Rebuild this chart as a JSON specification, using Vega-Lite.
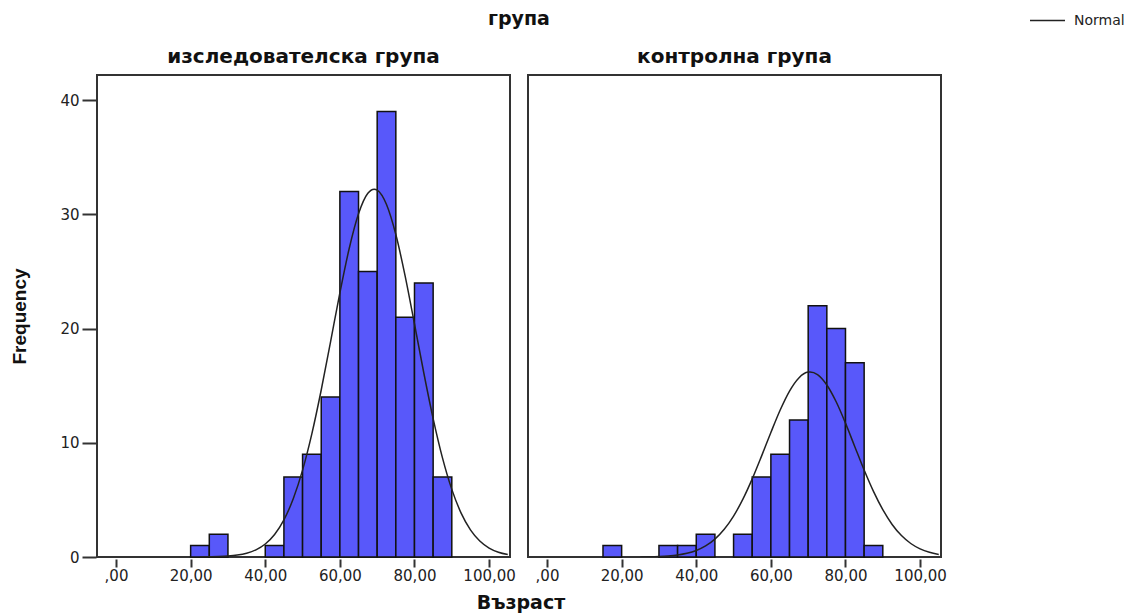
{
  "$schema": "https://vega.github.io/schema/vega-lite/v6.json",
  "padding": {"left": 10, "top": 2, "right": 10, "bottom": 2},
  "background": "white",
  "title": {"text": "Възраст", "orient": "bottom", "anchor": "middle", "dx": -47, "font": "DejaVu Sans", "fontWeight": "bold", "fontSize": 19, "color": "#111", "offset": 11},
  "datasets": {
    "all": [
      {"kind": "bar", "group": "изследователска група", "start": 20, "end": 25, "count": 1},
      {"kind": "bar", "group": "изследователска група", "start": 25, "end": 30, "count": 2},
      {"kind": "bar", "group": "изследователска група", "start": 40, "end": 45, "count": 1},
      {"kind": "bar", "group": "изследователска група", "start": 45, "end": 50, "count": 7},
      {"kind": "bar", "group": "изследователска група", "start": 50, "end": 55, "count": 9},
      {"kind": "bar", "group": "изследователска група", "start": 55, "end": 60, "count": 14},
      {"kind": "bar", "group": "изследователска група", "start": 60, "end": 65, "count": 32},
      {"kind": "bar", "group": "изследователска група", "start": 65, "end": 70, "count": 25},
      {"kind": "bar", "group": "изследователска група", "start": 70, "end": 75, "count": 39},
      {"kind": "bar", "group": "изследователска група", "start": 75, "end": 80, "count": 21},
      {"kind": "bar", "group": "изследователска група", "start": 80, "end": 85, "count": 24},
      {"kind": "bar", "group": "изследователска група", "start": 85, "end": 90, "count": 7},
      {"kind": "bar", "group": "контролна група", "start": 15, "end": 20, "count": 1},
      {"kind": "bar", "group": "контролна група", "start": 30, "end": 35, "count": 1},
      {"kind": "bar", "group": "контролна група", "start": 35, "end": 40, "count": 1},
      {"kind": "bar", "group": "контролна група", "start": 40, "end": 45, "count": 2},
      {"kind": "bar", "group": "контролна група", "start": 50, "end": 55, "count": 2},
      {"kind": "bar", "group": "контролна група", "start": 55, "end": 60, "count": 7},
      {"kind": "bar", "group": "контролна група", "start": 60, "end": 65, "count": 9},
      {"kind": "bar", "group": "контролна група", "start": 65, "end": 70, "count": 12},
      {"kind": "bar", "group": "контролна група", "start": 70, "end": 75, "count": 22},
      {"kind": "bar", "group": "контролна група", "start": 75, "end": 80, "count": 20},
      {"kind": "bar", "group": "контролна група", "start": 80, "end": 85, "count": 17},
      {"kind": "bar", "group": "контролна група", "start": 85, "end": 90, "count": 1},

      {"kind": "curve", "group": "изследователска група", "x": 22.5, "y": 0.0},
      {"kind": "curve", "group": "изследователска група", "x": 25, "y": 0.015},
      {"kind": "curve", "group": "изследователска група", "x": 27.5, "y": 0.035},
      {"kind": "curve", "group": "изследователска група", "x": 30, "y": 0.079},
      {"kind": "curve", "group": "изследователска група", "x": 32.5, "y": 0.165},
      {"kind": "curve", "group": "изследователска група", "x": 35, "y": 0.33},
      {"kind": "curve", "group": "изследователска група", "x": 37.5, "y": 0.63},
      {"kind": "curve", "group": "изследователска група", "x": 40, "y": 1.142},
      {"kind": "curve", "group": "изследователска група", "x": 42.5, "y": 1.974},
      {"kind": "curve", "group": "изследователска група", "x": 45, "y": 3.252},
      {"kind": "curve", "group": "изследователска група", "x": 47.5, "y": 5.094},
      {"kind": "curve", "group": "изследователска група", "x": 50, "y": 7.603},
      {"kind": "curve", "group": "изследователска група", "x": 52.5, "y": 10.8},
      {"kind": "curve", "group": "изследователска група", "x": 55, "y": 14.62},
      {"kind": "curve", "group": "изследователска група", "x": 57.5, "y": 18.84},
      {"kind": "curve", "group": "изследователска група", "x": 60, "y": 23.12},
      {"kind": "curve", "group": "изследователска група", "x": 62.5, "y": 27.01},
      {"kind": "curve", "group": "изследователска група", "x": 65, "y": 30.05},
      {"kind": "curve", "group": "изследователска група", "x": 67.5, "y": 31.84},
      {"kind": "curve", "group": "изследователска група", "x": 69.2, "y": 32.2},
      {"kind": "curve", "group": "изследователска група", "x": 70, "y": 32.12},
      {"kind": "curve", "group": "изследователска група", "x": 72.5, "y": 30.86},
      {"kind": "curve", "group": "изследователска група", "x": 75, "y": 28.23},
      {"kind": "curve", "group": "изследователска група", "x": 77.5, "y": 24.59},
      {"kind": "curve", "group": "изследователска група", "x": 80, "y": 20.4},
      {"kind": "curve", "group": "изследователска група", "x": 82.5, "y": 16.11},
      {"kind": "curve", "group": "изследователска група", "x": 85, "y": 12.12},
      {"kind": "curve", "group": "изследователска група", "x": 87.5, "y": 8.68},
      {"kind": "curve", "group": "изследователска група", "x": 90, "y": 5.92},
      {"kind": "curve", "group": "изследователска група", "x": 92.5, "y": 3.84},
      {"kind": "curve", "group": "изследователска група", "x": 95, "y": 2.376},
      {"kind": "curve", "group": "изследователска група", "x": 97.5, "y": 1.399},
      {"kind": "curve", "group": "изследователска група", "x": 100, "y": 0.784},
      {"kind": "curve", "group": "изследователска група", "x": 102.5, "y": 0.419},
      {"kind": "curve", "group": "изследователска група", "x": 105, "y": 0.213},

      {"kind": "curve", "group": "контролна група", "x": 25, "y": 0.01},
      {"kind": "curve", "group": "контролна група", "x": 27.5, "y": 0.021},
      {"kind": "curve", "group": "контролна група", "x": 30, "y": 0.045},
      {"kind": "curve", "group": "контролна група", "x": 32.5, "y": 0.091},
      {"kind": "curve", "group": "контролна група", "x": 35, "y": 0.175},
      {"kind": "curve", "group": "контролна група", "x": 37.5, "y": 0.324},
      {"kind": "curve", "group": "контролна група", "x": 40, "y": 0.574},
      {"kind": "curve", "group": "контролна група", "x": 42.5, "y": 0.97},
      {"kind": "curve", "group": "контролна група", "x": 45, "y": 1.568},
      {"kind": "curve", "group": "контролна група", "x": 47.5, "y": 2.424},
      {"kind": "curve", "group": "контролна група", "x": 50, "y": 3.582},
      {"kind": "curve", "group": "контролна група", "x": 52.5, "y": 5.061},
      {"kind": "curve", "group": "контролна група", "x": 55, "y": 6.837},
      {"kind": "curve", "group": "контролна група", "x": 57.5, "y": 8.831},
      {"kind": "curve", "group": "контролна група", "x": 60, "y": 10.9},
      {"kind": "curve", "group": "контролна група", "x": 62.5, "y": 12.87},
      {"kind": "curve", "group": "контролна група", "x": 65, "y": 14.53},
      {"kind": "curve", "group": "контролна група", "x": 67.5, "y": 15.68},
      {"kind": "curve", "group": "контролна група", "x": 70, "y": 16.19},
      {"kind": "curve", "group": "контролна група", "x": 70.5, "y": 16.2},
      {"kind": "curve", "group": "контролна група", "x": 72.5, "y": 15.97},
      {"kind": "curve", "group": "контролна група", "x": 75, "y": 15.06},
      {"kind": "curve", "group": "контролна група", "x": 77.5, "y": 13.59},
      {"kind": "curve", "group": "контролна група", "x": 80, "y": 11.72},
      {"kind": "curve", "group": "контролна група", "x": 82.5, "y": 9.66},
      {"kind": "curve", "group": "контролна група", "x": 85, "y": 7.61},
      {"kind": "curve", "group": "контролна група", "x": 87.5, "y": 5.74},
      {"kind": "curve", "group": "контролна група", "x": 90, "y": 4.14},
      {"kind": "curve", "group": "контролна група", "x": 92.5, "y": 2.85},
      {"kind": "curve", "group": "контролна група", "x": 95, "y": 1.876},
      {"kind": "curve", "group": "контролна група", "x": 97.5, "y": 1.182},
      {"kind": "curve", "group": "контролна група", "x": 100, "y": 0.711},
      {"kind": "curve", "group": "контролна група", "x": 102.5, "y": 0.41},
      {"kind": "curve", "group": "контролна група", "x": 105, "y": 0.226}
    ]
  },
  "data": {"name": "all"},
  "facet": {
    "column": {
      "field": "group",
      "type": "nominal",
      "header": {
        "title": "група",
        "titleFont": "DejaVu Sans",
        "titleFontWeight": "bold",
        "titleFontSize": 19,
        "titleColor": "#111",
        "titlePadding": 8,
        "labelFont": "DejaVu Sans",
        "labelFontWeight": "bold",
        "labelFontSize": 20,
        "labelColor": "#111",
        "labelPadding": 7
      }
    }
  },
  "spacing": 16,
  "spec": {
    "width": 413,
    "height": 482,
    "layer": [
      {
        "transform": [{"filter": "datum.kind === 'bar'"}],
        "mark": {"type": "bar", "fill": "#5858FA", "stroke": "#111", "strokeWidth": 1.5},
        "encoding": {
          "x": {
            "field": "start", "type": "quantitative",
            "scale": {"domain": [-5.1, 105.6], "nice": false, "zero": false},
            "axis": {
              "title": null,
              "values": [0, 20, 40, 60, 80, 100],
              "labelExpr": "datum.value === 0 ? ',00' : datum.value + ',00'",
              "domain": false,
              "grid": false,
              "ticks": true,
              "tickSize": 8,
              "tickWidth": 2,
              "tickColor": "#333",
              "labelFont": "DejaVu Sans",
              "labelFontSize": 15,
              "labelColor": "#222",
              "labelPadding": 1,
              "labelFlush": false,
              "labelOverlap": false
            }
          },
          "x2": {"field": "end"},
          "y": {
            "field": "count", "type": "quantitative",
            "scale": {"domain": [0, 42.2], "nice": false},
            "axis": {
              "title": "Frequency",
              "titleFont": "Liberation Sans",
              "titleFontWeight": "bold",
              "titleFontSize": 19,
              "titleColor": "#111",
              "titlePadding": 30,
              "values": [0, 10, 20, 30, 40],
              "domain": false,
              "grid": false,
              "tickSize": 14,
              "tickWidth": 2,
              "tickColor": "#333",
              "labelFont": "DejaVu Sans",
              "labelFontSize": 15,
              "labelColor": "#222",
              "labelPadding": 3
            }
          },
          "y2": {"datum": 0}
        }
      },
      {
        "transform": [{"filter": "datum.kind === 'curve'"}],
        "mark": {"type": "line", "interpolate": "monotone", "strokeWidth": 1.5, "clip": true},
        "encoding": {
          "x": {"field": "x", "type": "quantitative"},
          "y": {"field": "y", "type": "quantitative"},
          "color": {
            "datum": "Normal",
            "type": "nominal",
            "scale": {"range": ["#222222"]},
            "legend": {
              "title": null,
              "orient": "none",
              "legendX": 932,
              "legendY": -73,
              "symbolType": "stroke",
              "symbolSize": 1225,
              "symbolStrokeWidth": 1.5,
              "labelOffset": 8,
              "labelFont": "DejaVu Sans",
              "labelFontSize": 14,
              "labelColor": "#222"
            }
          }
        }
      }
    ]
  },
  "config": {
    "view": {"stroke": "#333", "strokeWidth": 2},
    "axis": {"labelFont": "DejaVu Sans"}
  }
}
